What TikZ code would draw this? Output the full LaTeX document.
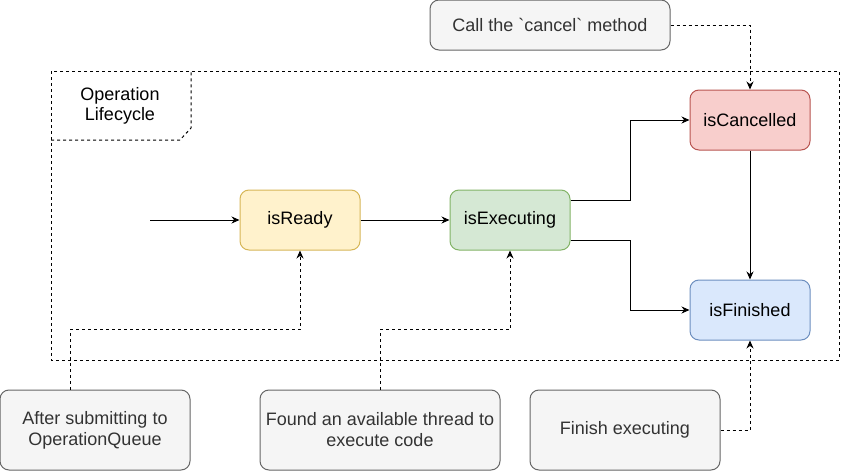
\documentclass[tikz,border=0pt]{standalone}
\usepackage{fontspec}
\setmainfont{Liberation Sans}
\usetikzlibrary{arrows.meta,positioning}

\definecolor{readyfill}{HTML}{FFF2CC}
\definecolor{readyline}{HTML}{D6B656}
\definecolor{execfill}{HTML}{D5E8D4}
\definecolor{execline}{HTML}{82B366}
\definecolor{cancelfill}{HTML}{F8CECC}
\definecolor{cancelline}{HTML}{B85450}
\definecolor{finfill}{HTML}{DAE8FC}
\definecolor{finline}{HTML}{6C8EBF}
\definecolor{notefill}{HTML}{F5F5F5}
\definecolor{noteline}{HTML}{666666}
\definecolor{notetext}{HTML}{333333}

\begin{document}
\begin{tikzpicture}[x=1pt,y=-1pt,
    state/.style={draw,rounded corners=9pt,minimum width=120pt,minimum height=60pt,
      inner sep=0pt,line width=1pt,font=\fontsize{18}{21}\selectfont},
    note/.style={state,fill=notefill,draw=noteline,text=notetext,align=center},
    flow/.style={-{Stealth[length=8pt,width=7pt]},line width=1pt},
    hint/.style={flow,dash pattern=on 3pt off 3pt},
    lane/.style={line width=1pt,dash pattern=on 3pt off 3pt}]
      \useasboundingbox (0,0) rectangle (841,471);

      \coordinate (r) at (300,220);
      \coordinate (x) at (510,220);
      \coordinate (c) at (750,120);
      \coordinate (f) at (750,310);
      \coordinate (s) at (150,220);

      % lifecycle frame
      \draw[lane] (51,71) rectangle (839,360);
      \draw[lane] (51,140) -- (180,140) -- (191,128) -- (191,71);
      \node[align=center,font=\fontsize{18}{20}\selectfont] (title) at (120,106) {Operation\\Lifecycle};

      \node[state,fill=readyfill,draw=readyline] (ready) at (r) {isReady};
      \node[state,fill=execfill,draw=execline] (exec) at (x) {isExecuting};
      \node[state,fill=cancelfill,draw=cancelline] (cancel) at (c) {isCancelled};
      \node[state,fill=finfill,draw=finline] (fin) at (f) {isFinished};

      \node[note,minimum width=240pt,minimum height=50pt] (call) at (550,25)
        {Call the \textasciigrave cancel\textasciigrave{} method};
      \node[note,minimum width=190pt,minimum height=80pt] (after) at (95,430)
        {After submitting to\\OperationQueue};
      \node[note,minimum width=240pt,minimum height=80pt] (thread) at (380,430)
        {Found an available thread to\\execute code};
      \node[note,minimum width=190pt,minimum height=80pt] (done) at (625,430)
        {Finish executing};

      \draw[flow] (s) -- (ready);
      \draw[flow] (ready) -- (exec);
      \draw[flow] ([yshift=20pt]exec.east) -- ++(60,0) |- (cancel.west);
      \draw[flow] ([yshift=-20pt]exec.east) -- ++(60,0) |- (fin.west);
      \draw[flow] (cancel) -- (fin);

      \draw[hint] (call.east) -| (cancel.north);
      \draw[hint] ([xshift=-25pt]after.north) -- ++(0,-60) -| (ready.south);
      \draw[hint] (thread.north) -- ++(0,-60) -| (exec.south);
      \draw[hint] (done.east) -| (fin.south);

    \end{tikzpicture}
\end{document}
